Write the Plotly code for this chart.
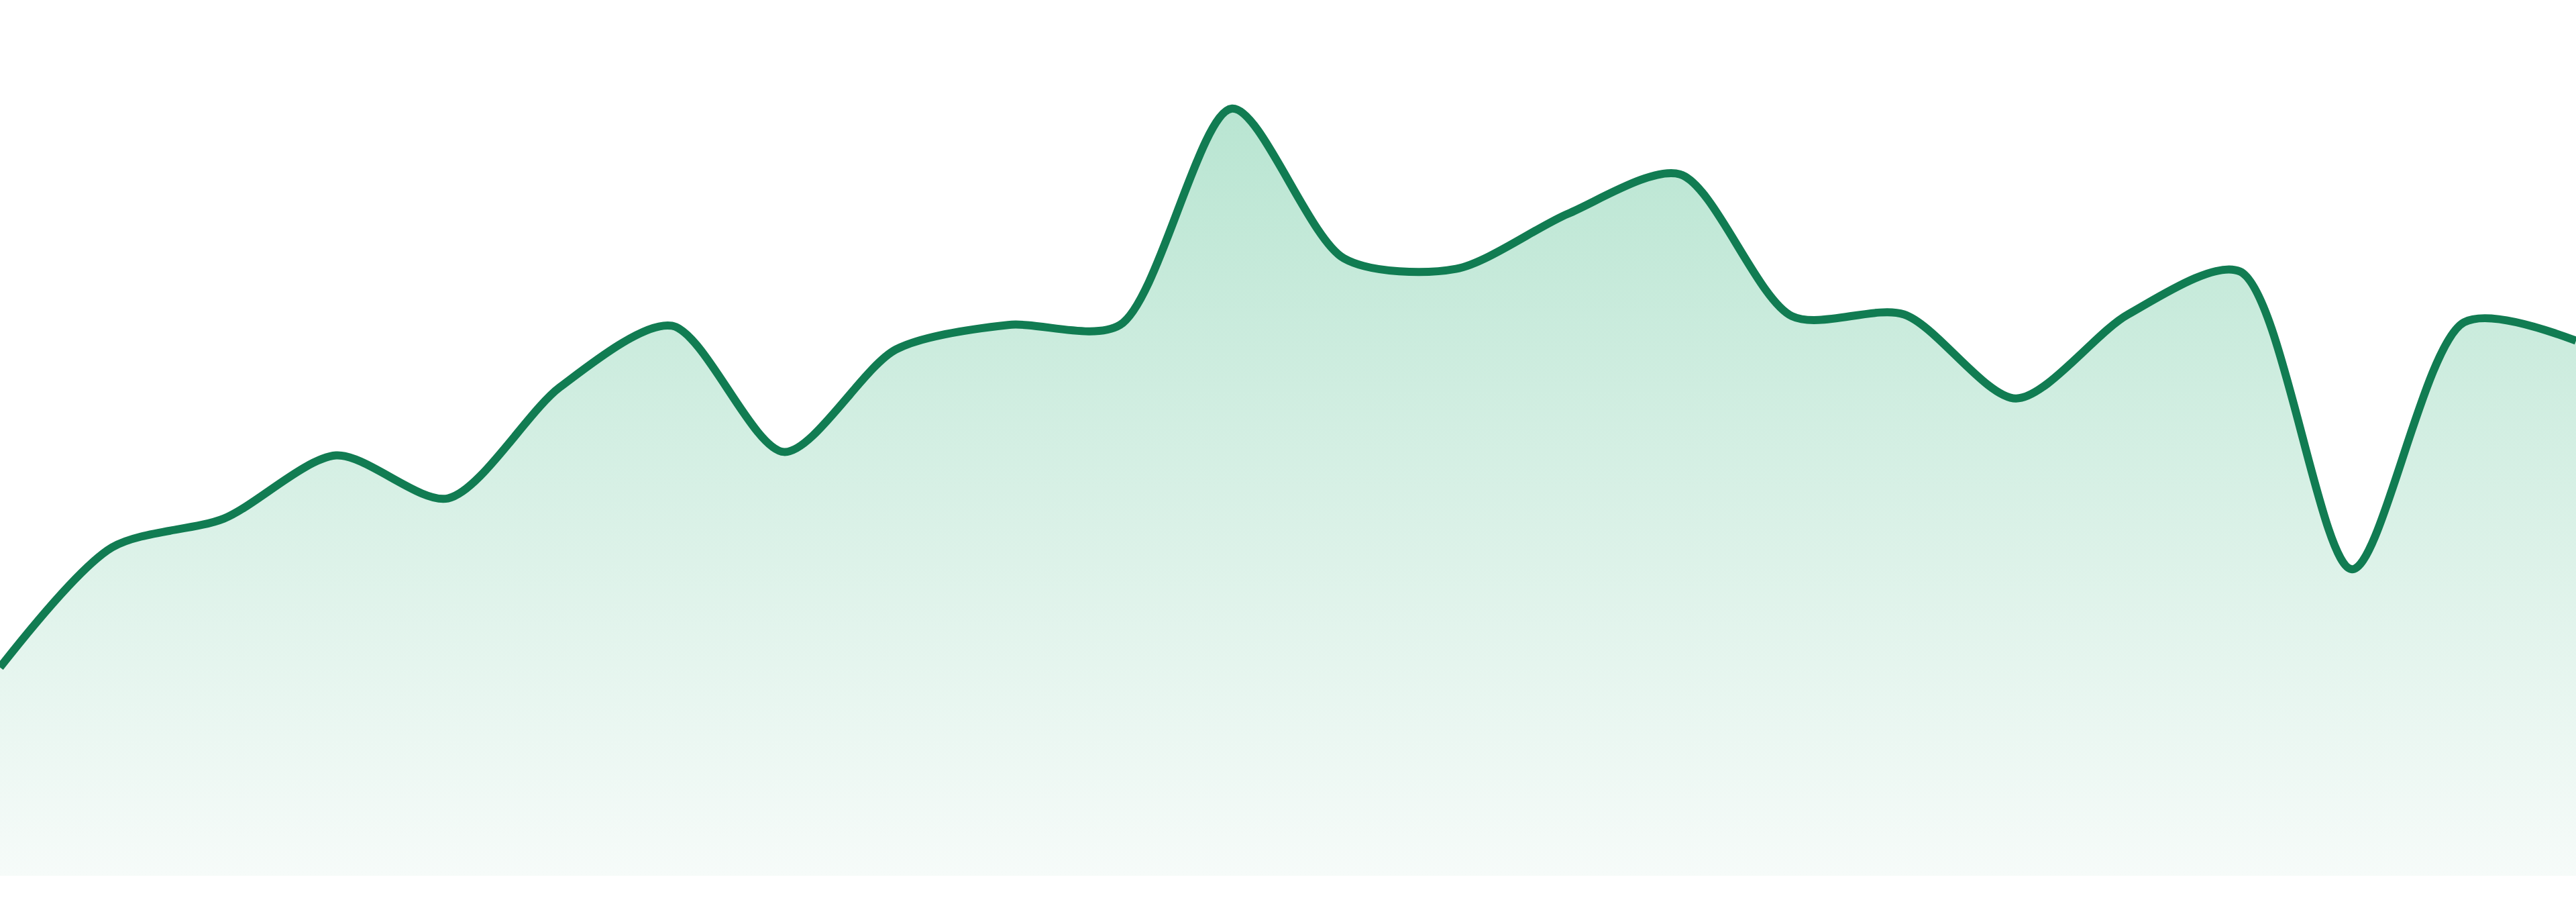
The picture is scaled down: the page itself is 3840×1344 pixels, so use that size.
import plotly.graph_objects as go

# one value per step, 24 steps across the full width
steps = list(range(24))
values = [23.8, 37.5, 40.8, 48.0, 43.1, 55.8, 62.8, 48.4, 60.1, 62.9, 62.9, 87.6,
          70.5, 69.3, 75.6, 80.1, 63.9, 64.1, 54.5, 64.1, 69.0, 35.0, 63.2, 61.1]

line_color = "#117c52"

fig = go.Figure()
fig.add_trace(go.Scatter(
    x=steps, y=values,
    mode="lines",
    line=dict(color=line_color, width=12, shape="spline", smoothing=0.8),
    fill="tozeroy",
    fillgradient=dict(type="vertical", start=0, stop=100,
                      colorscale=[[0, "rgb(246,251,249)"], [1, "rgb(176,226,204)"]]),
    hoverinfo="skip",
))

fig.update_layout(
    width=3840, height=1344,
    margin=dict(l=0, r=0, t=0, b=39),
    paper_bgcolor="white", plot_bgcolor="white",
    showlegend=False,
    xaxis=dict(range=[0, 23], visible=False, fixedrange=True),
    yaxis=dict(range=[0, 100], visible=False, fixedrange=True),
)

# no page margin, and no modebar / logo popping up on hover
page_js = (
    "document.body.style.margin='0';"
    "var s=document.createElement('style');"
    "s.innerHTML='.modebar-container{display:none !important;}';"
    "document.head.appendChild(s);"
)
fig.write_html("out.html", post_script=page_js)
